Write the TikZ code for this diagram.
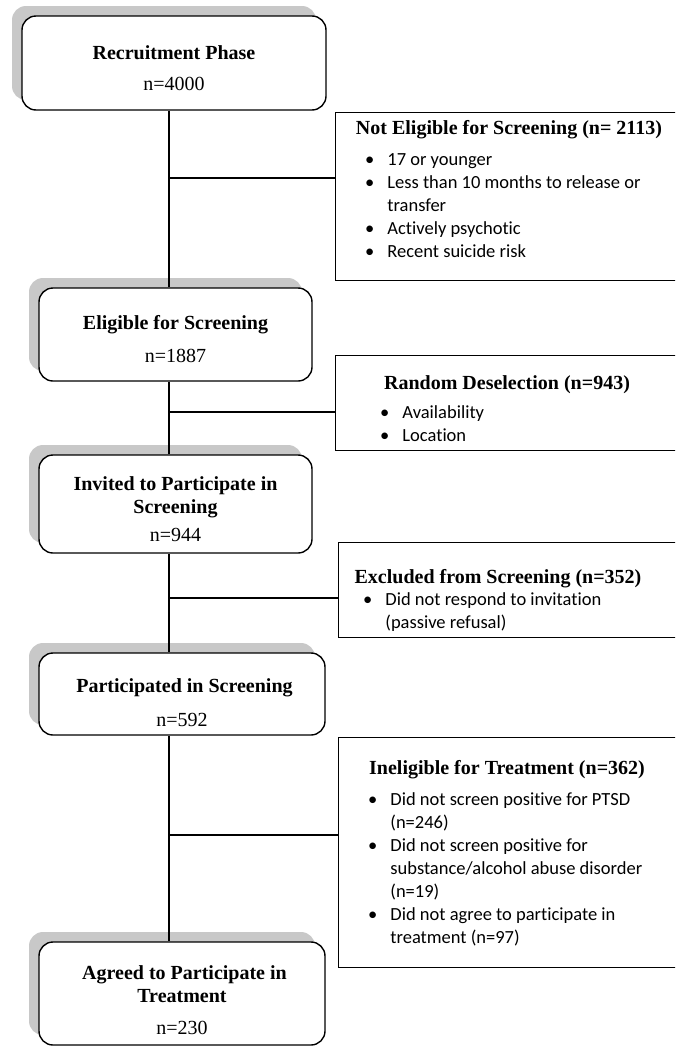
\documentclass[tikz,border=0pt]{standalone}
\usepackage{fontspec}
\setmainfont{Liberation Serif}
\newfontfamily\listfont[Ligatures=CommonOff]{Carlito}
\usetikzlibrary{shadows}

\newcommand{\varX}{169}
\newcommand{\padtop}[1][24pt]{\rule{0pt}{#1}}
\definecolor{myshade}{RGB}{200,200,200}

\begin{document}
\begin{tikzpicture}[x=1pt, y=-1pt,
	phase/.style={draw, line width=1.4pt, rounded corners=14pt, fill=white, align=center, inner sep=0pt,
		font=\fontsize{20}{23}\selectfont\bfseries,
		drop shadow={shadow xshift=-10pt, shadow yshift=10pt, fill=myshade, opacity=1}},
	excl/.style={draw, line width=1.4pt, anchor=north west, inner sep=0pt, minimum width=350pt},
	head/.style={anchor=base, inner sep=0pt, font=\fontsize{20}{23}\selectfont\bfseries},
	items/.style={anchor=north west, inner sep=0pt, font=\fontsize{18.5}{23}\selectfont\listfont},
	link/.style={line width=1.4pt}]

	\useasboundingbox (0,0) rectangle (675,1047);
	\clip (0,0) rectangle (675,1047);

	% phases
	\node [phase, minimum width=304pt, minimum height=94pt] (recruit) at (174,63) {\padtop Recruitment Phase\\[8pt]\mdseries n=4000};
	\node [phase, minimum width=273pt, minimum height=93pt] (elig) at (175.5,334.5) {\padtop Eligible for Screening\\[10pt]\mdseries n=1887};
	\node [phase, minimum width=273pt, minimum height=98pt] (invite) at (175.5,504) {\padtop Invited to Participate in\\Screening\\[5pt]\mdseries n=944};
	\node [phase, minimum width=286pt, minimum height=82pt] (partic) at (182,694) {\padtop[32pt] Participated in Screening\\[11pt]\mdseries n=592};
	\node [phase, minimum width=286pt, minimum height=103pt] (agree) at (182,993.5) {\padtop[28pt] Agreed to Participate in\\Treatment\\[9pt]\mdseries n=230};

	% exclusions
	\node [excl, minimum height=168pt] (notelig) at (335,112) {};
	\node [head] at (509,134) {Not Eligible for Screening (n= 2113)};
	\node [items] at (365,149) {\begin{tabular}{@{}l@{\hspace{13pt}}l@{}}
		\textbullet & 17 or younger\\
		\textbullet & Less than 10 months to release or\\
		& transfer\\
		\textbullet & Actively psychotic\\
		\textbullet & Recent suicide risk
	\end{tabular}};

	\node [excl, minimum height=95pt] (desel) at (335,355) {};
	\node [head] at (507,389) {Random Deselection (n=943)};
	\node [items] at (380,402) {\begin{tabular}{@{}l@{\hspace{13pt}}l@{}}
		\textbullet & Availability\\
		\textbullet & Location
	\end{tabular}};

	\node [excl, minimum height=95pt] (excluded) at (338,542) {};
	\node [head] at (498,583) {Excluded from Screening (n=352)};
	\node [items] at (363,589) {\begin{tabular}{@{}l@{\hspace{13pt}}l@{}}
		\textbullet & Did not respond to invitation\\
		& (passive refusal)
	\end{tabular}};

	\node [excl, minimum height=230pt] (inelig) at (338,737) {};
	\node [head] at (507,774) {Ineligible for Treatment (n=362)};
	\node [items] at (368,789) {\begin{tabular}{@{}l@{\hspace{13pt}}l@{}}
		\textbullet & Did not screen positive for PTSD\\
		& (n=246)\\
		\textbullet & Did not screen positive for\\
		& substance/alcohol abuse disorder\\
		& (n=19)\\
		\textbullet & Did not agree to participate in\\
		& treatment (n=97)
	\end{tabular}};

	% lines
	\coordinate (trunk) at (\varX,0);
	\draw [link] (recruit.south -| trunk) -- (elig.north -| trunk);
	\draw [link] (elig.south -| trunk) -- (invite.north -| trunk);
	\draw [link] (invite.south -| trunk) -- (partic.north -| trunk);
	\draw [link] (partic.south -| trunk) -- (agree.north -| trunk);

	\coordinate (j1) at (\varX,178);
	\coordinate (j2) at (\varX,412);
	\coordinate (j3) at (\varX,598);
	\coordinate (j4) at (\varX,835);
	\draw [link] (j1) -- (j1 -| notelig.west);
	\draw [link] (j2) -- (j2 -| desel.west);
	\draw [link] (j3) -- (j3 -| excluded.west);
	\draw [link] (j4) -- (j4 -| inelig.west);
\end{tikzpicture}
\end{document}
